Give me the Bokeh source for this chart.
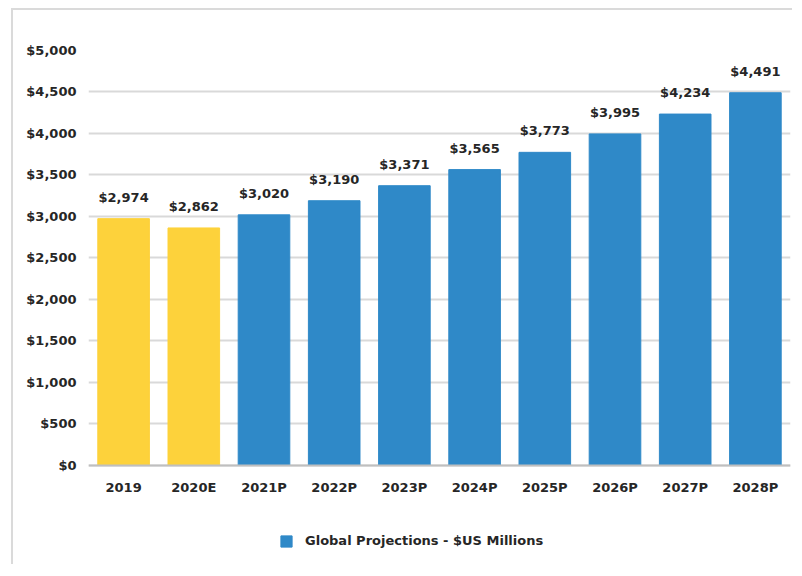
from bokeh.plotting import figure
from bokeh.models import (ColumnDataSource, NumeralTickFormatter, Legend, LegendItem,
                          FixedTicker, Range1d, LabelSet)
from bokeh.core.properties import value
from bokeh.embed import file_html
from bokeh.resources import INLINE

years = ["2019", "2020E", "2021P", "2022P", "2023P", "2024P", "2025P", "2026P", "2027P", "2028P"]
values = [2974, 2862, 3020, 3190, 3371, 3565, 3773, 3995, 4234, 4491]
kinds = ["actual", "estimate", "proj", "proj", "proj", "proj", "proj", "proj", "proj", "proj"]
y_ticks = [0, 500, 1000, 1500, 2000, 2500, 3000, 3500, 4000, 4500, 5000]
legend_label = "Global Projections - $US Millions"

YELLOW = "#FDD23B"
BLUE = "#2F89C8"
colors = [YELLOW if k != "proj" else BLUE for k in kinds]
labels = ["${:,}".format(v) for v in values]

src = ColumnDataSource(dict(x=years, top=values, color=colors, label=labels))

FONT = "DejaVu Sans"
FS = "13px"
TXT = "#262626"
p = figure(x_range=years, y_range=Range1d(-1217, 5000), width=781, height=556,
           output_backend="svg", toolbar_location=None,
           min_border_left=75, min_border_right=4, min_border_top=40, min_border_bottom=0)
p.styles = {"border-left": "2px solid #DADADA", "border-top": "2px solid #DADADA",
            "margin-left": "11px", "margin-top": "8px"}
p.outline_line_color = None
p.background_fill_color = "white"

r = p.vbar(x="x", top="top", width=0.735, color="color", source=src)

lbl = LabelSet(x="x", y="top", text="label", source=src, text_align="center",
               text_baseline="bottom", y_offset=14, text_font=value(FONT),
               text_font_size=FS, text_font_style="bold", text_color=TXT)
p.add_layout(lbl)

ticker = FixedTicker(ticks=y_ticks)
p.yaxis.ticker = ticker
p.ygrid.ticker = ticker
p.yaxis.formatter = NumeralTickFormatter(format="$0,0")
p.yaxis.axis_line_color = None
p.yaxis.major_tick_line_color = None
p.yaxis.minor_tick_line_color = None
p.yaxis.major_label_standoff = 6
p.xaxis.fixed_location = 0
p.xaxis.axis_line_color = "#BFBFBF"
p.xaxis.axis_line_width = 2
p.xaxis.major_tick_line_color = None
p.xaxis.major_label_standoff = 9
for ax in (p.xaxis, p.yaxis):
    ax.major_label_text_font = FONT
    ax.major_label_text_font_size = FS
    ax.major_label_text_font_style = "bold"
    ax.major_label_text_color = TXT

p.xgrid.grid_line_color = None
p.ygrid.grid_line_color = "#D9D9D9"
p.ygrid.grid_line_width = 2

legend = Legend(items=[LegendItem(label=legend_label, renderers=[r], index=2)],
                location=(191, 18), orientation="horizontal",
                label_text_font=FONT, label_text_font_size=FS,
                label_text_font_style="bold", label_text_color=TXT,
                glyph_width=14, glyph_height=14, border_line_color=None,
                background_fill_alpha=0, padding=4, margin=0, label_standoff=12)
p.add_layout(legend, "center")

open("out.html", "w").write(file_html(p, INLINE))
